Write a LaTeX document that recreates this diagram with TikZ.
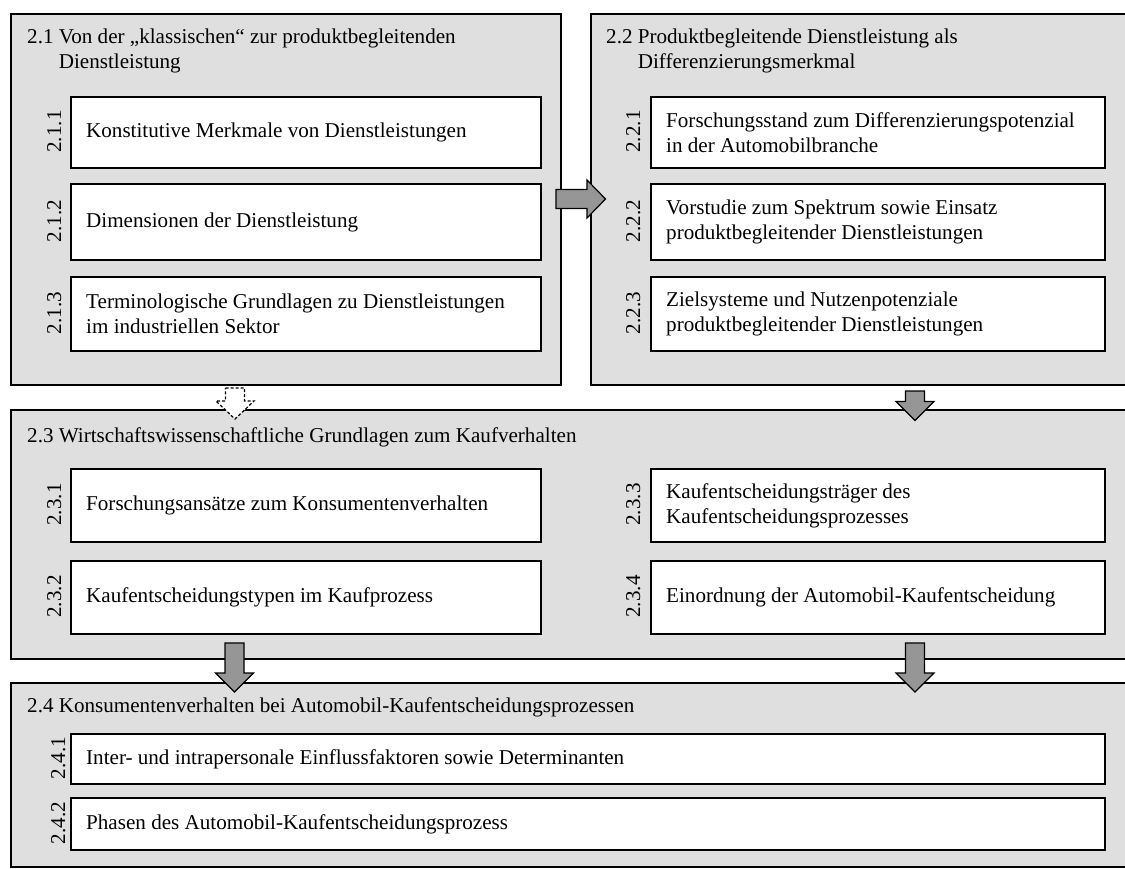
\documentclass[tikz,border=0pt]{standalone}
\usepackage{fontspec}
\setmainfont{Liberation Serif}
\usetikzlibrary{shadows.blur}
\definecolor{panelgray}{RGB}{223,223,223}
\definecolor{arrowgray}{RGB}{150,150,150}
\begin{document}
\begin{tikzpicture}[x=1pt,y=-1pt,
  every node/.style={font=\fontsize{21.1}{25}\selectfont},
  panel/.style={draw=black, line width=2pt, fill=panelgray, inner sep=0pt, anchor=north west},
  item/.style={draw=black, line width=2pt, fill=white, inner sep=0pt, anchor=north west},
  itemtext/.style={anchor=west, align=left, inner sep=0pt},
  num/.style={rotate=90, anchor=base, inner sep=0pt},
  heading/.style={anchor=base west, inner sep=0pt},
  flow/.style={draw=black, line width=1.2pt, fill=arrowgray, line join=miter,
    blur shadow={shadow xshift=1.5pt, shadow yshift=-1.5pt, shadow blur radius=2.5pt, shadow opacity=45}},
  optflow/.style={flow, fill=white, dash pattern=on 3pt off 2pt},
  pics/arrowdown/.style args={#1/#2}{code={
    \draw[pic actions] (-9.5,0) -- (9.5,0) -- (9.5,#1) -- (19,#1) -- (0,#1+#2)
      -- (-19,#1) -- (-9.5,#1) -- cycle;}},
  pics/arrowright/.style args={#1/#2}{code={
    \draw[pic actions] (0,-9.5) -- (#1,-9.5) -- (#1,-19) -- (#1+#2,0)
      -- (#1,19) -- (#1,9.5) -- (0,9.5) -- cycle;}}
]
\fill[white] (0,0) rectangle (1125,868);
\useasboundingbox (0,0) rectangle (1125,868);

% chapter panels (right edges run just past the page edge)
\node[panel, minimum width=550pt, minimum height=371pt] (p21) at (10,13) {};
\node[panel, minimum width=538pt, minimum height=371pt] (p22) at (590,13) {};
\node[panel, minimum width=1118pt, minimum height=249pt] (p23) at (10,409) {};
\node[panel, minimum width=1118pt, minimum height=184pt] (p24) at (10,682) {};

% panel headings
\node[heading] (h21) at (27,43) {\begin{tabular}[t]{@{}l@{ }l@{}}2.1 & Von der „klassischen“ zur produktbegleitenden\\ & Dienstleistung\end{tabular}};
\node[heading] (h22) at (606,43) {\begin{tabular}[t]{@{}l@{ }l@{}}2.2 & Produktbegleitende Dienstleistung als\\ & Differenzierungsmerkmal\end{tabular}};
\node[heading] (h23) at (27,442) {2.3 Wirtschaftswissenschaftliche Grundlagen zum Kaufverhalten};
\node[heading] (h24) at (27,712) {2.4 Konsumentenverhalten bei Automobil-Kaufentscheidungsprozessen};

% section 2.1
\node[item, minimum width=470pt, minimum height=71pt] (s211) at (70,96) {};
\node[item, minimum width=470pt, minimum height=76pt] (s212) at (70,183) {};
\node[item, minimum width=470pt, minimum height=74pt] (s213) at (70,276) {};
\node[itemtext] (x211) at ([xshift=16pt]s211.west) {Konstitutive Merkmale von Dienstleistungen};
\node[itemtext] (x212) at ([xshift=16pt]s212.west) {Dimensionen der Dienstleistung};
\node[itemtext] (x213) at ([xshift=16pt]s213.west) {Terminologische Grundlagen zu Dienstleistungen\\im industriellen Sektor};
\node[num] (n211) at (61,131.5) {2.1.1};
\node[num] (n212) at (61,221) {2.1.2};
\node[num] (n213) at (61,313) {2.1.3};

% section 2.2
\node[item, minimum width=454pt, minimum height=71pt] (s221) at (650,96) {};
\node[item, minimum width=454pt, minimum height=76pt] (s222) at (650,183) {};
\node[item, minimum width=454pt, minimum height=74pt] (s223) at (650,276) {};
\node[itemtext] (x221) at ([xshift=16pt]s221.west) {Forschungsstand zum Differenzierungspotenzial\\in der Automobilbranche};
\node[itemtext] (x222) at ([xshift=16pt]s222.west) {Vorstudie zum Spektrum sowie Einsatz\\produktbegleitender Dienstleistungen};
\node[itemtext] (x223) at ([xshift=16pt]s223.west) {Zielsysteme und Nutzenpotenziale\\produktbegleitender Dienstleistungen};
\node[num] (n221) at (640,131.5) {2.2.1};
\node[num] (n222) at (640,221) {2.2.2};
\node[num] (n223) at (640,313) {2.2.3};

% section 2.3
\node[item, minimum width=470pt, minimum height=73pt] (s231) at (70,468) {};
\node[item, minimum width=470pt, minimum height=73pt] (s232) at (70,560) {};
\node[item, minimum width=454pt, minimum height=73pt] (s233) at (650,468) {};
\node[item, minimum width=454pt, minimum height=73pt] (s234) at (650,560) {};
\node[itemtext] (x231) at ([xshift=16pt]s231.west) {Forschungsansätze zum Konsumentenverhalten};
\node[itemtext] (x232) at ([xshift=16pt]s232.west) {Kaufentscheidungstypen im Kaufprozess};
\node[itemtext] (x233) at ([xshift=16pt]s233.west) {Kaufentscheidungsträger des\\Kaufentscheidungsprozesses};
\node[itemtext] (x234) at ([xshift=16pt]s234.west) {Einordnung der Automobil-Kaufentscheidung};
\node[num] (n231) at (61,504.5) {2.3.1};
\node[num] (n232) at (61,596.5) {2.3.2};
\node[num] (n233) at (640,504.5) {2.3.3};
\node[num] (n234) at (640,596.5) {2.3.4};

% section 2.4
\node[item, minimum width=1034pt, minimum height=50pt] (s241) at (70,733) {};
\node[item, minimum width=1034pt, minimum height=52pt] (s242) at (70,797) {};
\node[itemtext] (x241) at ([xshift=16pt]s241.west) {Inter- und intrapersonale Einflussfaktoren sowie Determinanten};
\node[itemtext] (x242) at ([xshift=16pt]s242.west) {Phasen des Automobil-Kaufentscheidungsprozess};
\node[num] (n241) at (65,758) {2.4.1};
\node[num] (n242) at (65,823) {2.4.2};

% flow between the panels
\pic[flow] (a1) at (556,199) {arrowright=31/18.5};
\pic[optflow] (a2) at (235,388) {arrowdown=13/18};
\pic[flow] (a3) at (915,391) {arrowdown=10.5/19};
\pic[flow] (a4) at (234.5,643) {arrowdown=30/19};
\pic[flow] (a5) at (915,643) {arrowdown=30/19};
\end{tikzpicture}
\end{document}
